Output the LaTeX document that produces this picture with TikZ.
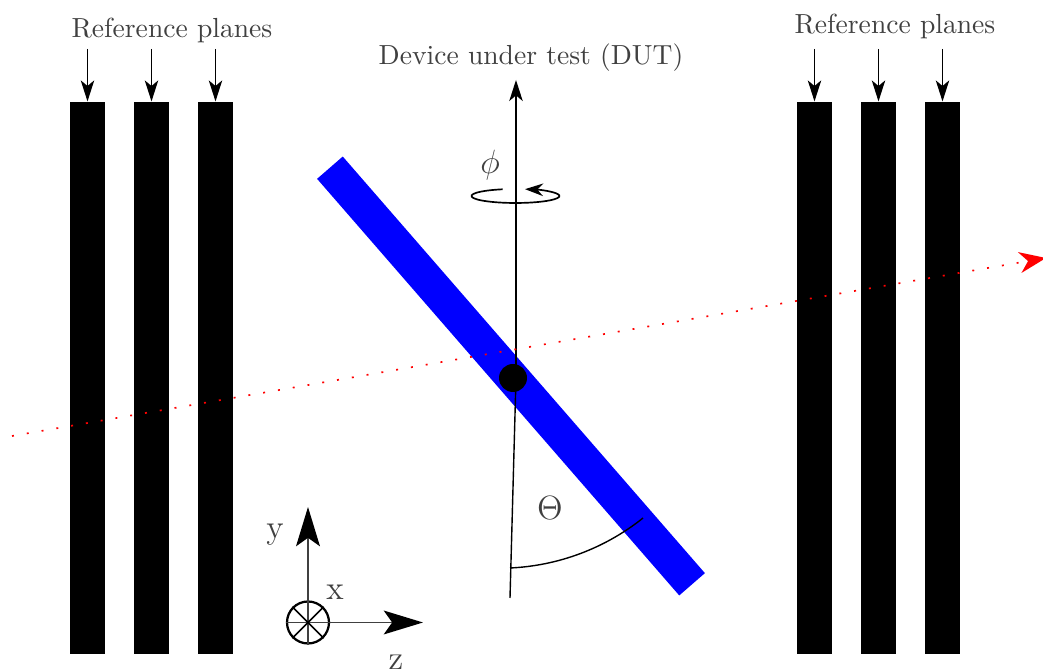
\documentclass[tikz,border=0pt]{standalone}
\usetikzlibrary{arrows.meta}
\begin{document}
\begin{tikzpicture}[
	x=0.01255cm, y=0.01255cm,
	plano/.style={rectangle, fill=black, draw=none, inner sep=0pt, minimum width=35*0.01255cm, minimum height=552*0.01255cm},
	dut/.style={rectangle, fill=blue, draw=none, inner sep=0pt, rotate=-49, minimum width=552*0.01255cm, minimum height=34*0.01255cm},
	perno/.style={circle, fill=black, draw=none, inner sep=0pt, minimum size=28*0.01255cm},
	asse/.style={line width=0.5pt, black},
	freccia/.style={line width=0.5pt, black, -{Stealth[length=7.5pt,width=4.8pt,inset=2pt]}},
	terna/.style={line width=0.7pt, black!75, -{Stealth[length=14pt,width=8.5pt,inset=3pt,black]}},
	raggio/.style={red, line width=0.6pt, dash pattern=on 0.7pt off 4.65pt, -{Stealth[length=9.5pt,width=7.5pt,inset=3pt]}},
	testo/.style={inner sep=0pt, text=black!75, font=\fontsize{9.85}{12}\selectfont},
	lettera/.style={inner sep=0pt, text=black!75, font=\large},
	]
	\useasboundingbox (0,0) rectangle (1043,672);

	%% reference planes, left and right
	\foreach \n/\xx in {1/87.5,2/151.5,3/215.5} {
		\node[plano] (sx\n) at (\xx,294) {};
		\coordinate (sxtop\n) at (\xx,623);
		\draw[freccia] (sxtop\n) -- (sx\n.north);
	}
	\foreach \n/\xx in {1/814.5,2/878.5,3/942.5} {
		\node[plano] (dx\n) at (\xx,294) {};
		\coordinate (dxtop\n) at (\xx,623);
		\draw[freccia] (dxtop\n) -- (dx\n.north);
	}
	\node[testo] (labsx) at (172,642) {Reference planes};
	\node[testo] (labdx) at (895,646) {Reference planes};

	%% device and its axes
	\node[dut] (lastra) at (511,296) {};
	\coordinate (assemid) at (516,294);
	\coordinate (assetop) at (516,592);
	\coordinate (assebot) at (510,74);
	\draw[freccia] (assemid) -- (assetop);
	\draw[asse] (assemid) -- (assebot);
	\node[perno] (centro) at (513,294) {};
	\node[testo] (labdut) at (531,614) {Device under test (DUT)};

	%% rotation
	\coordinate (rotstart) at (502.6,482.7);
	\draw[line width=0.6pt, black, -{Stealth[length=6.5pt,width=4.5pt]}] (rotstart) arc[start angle=107, end angle=437.5, x radius=44, y radius=7];
	\node[lettera] (labphi) at (490,507) {$\phi$};

	%% beam
	\coordinate (raggiosx) at (12,236);
	\coordinate (raggiodx) at (1046,414);
	\draw[raggio] (raggiosx) -- (raggiodx);

	%% tilt
	\coordinate (tiltstart) at (510,104);
	\draw[asse] (tiltstart) arc[start angle=-87.4, end angle=-51.4, radius=230];
	\node[lettera] (labtheta) at (550,164) {$\Theta$};

	%% coordinate system
	\node[circle, draw=black, line width=0.8pt, inner sep=0pt, minimum size=42*0.01255cm] (origine) at (308,49.5) {};
	\coordinate (ytip) at (308,165);
	\coordinate (ztip) at (423,49.5);
	\draw[terna] (origine.south) -- (ytip);
	\draw[terna] (origine.west) -- (ztip);
	\draw[line width=0.6pt] (origine.north east) -- (origine.south west);
	\draw[line width=0.6pt] (origine.north west) -- (origine.south east);
	\node[lettera] (laby) at (275,137) {y};
	\node[lettera] (labx) at (335,80) {x};
	\node[lettera] (labz) at (396,9.5) {z};
\end{tikzpicture}
\end{document}
